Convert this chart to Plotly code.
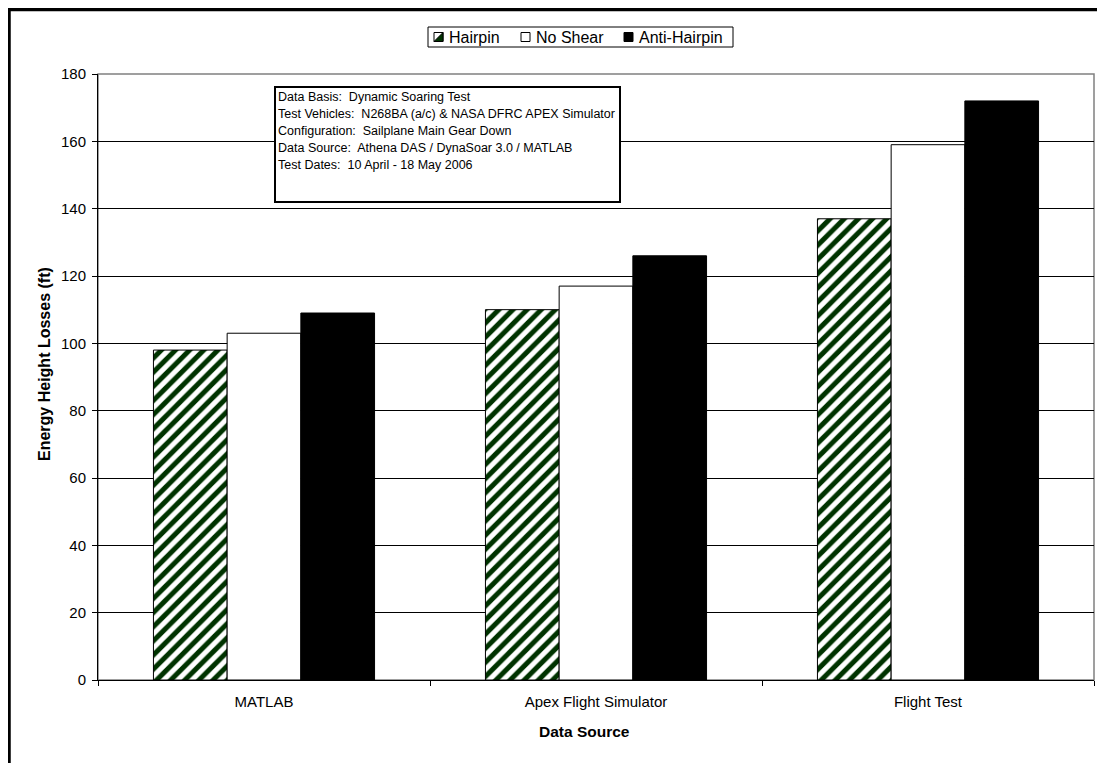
import plotly.graph_objects as go

categories = ["MATLAB", "Apex Flight Simulator", "Flight Test"]
hairpin = [98, 110, 137]
no_shear = [103, 117, 159]
anti_hairpin = [109, 126, 172]
y_ticks = [0, 20, 40, 60, 80, 100, 120, 140, 160, 180]
series_names = ["Hairpin", "No Shear", "Anti-Hairpin"]
info_lines = [
    "Data Basis:  Dynamic Soaring Test",
    "Test Vehicles:  N268BA (a/c) &amp; NASA DFRC APEX Simulator",
    "Configuration:  Sailplane Main Gear Down",
    "Data Source:  Athena DAS / DynaSoar 3.0 / MATLAB",
    "Test Dates:  10 April - 18 May 2006",
]

OFF = 8  # page body margin
W, H = 1105 - OFF, 763 - OFF
L, R, T, B = 98, 1094, 74, 680  # plot area in reference (screen) pixels
pw, ph = R - L, B - T

def px(x):
    return (x - L) / pw

def py(y):
    return (B - y) / ph

FONT = "Liberation Sans, Arial, sans-serif"
GREEN = "#003300"
FS = 15

fig = go.Figure()
fig.add_trace(go.Bar(
    name=series_names[0], x=categories, y=hairpin,
    marker=dict(color="white", line=dict(color="black", width=1),
                pattern=dict(shape="/", fgcolor=GREEN, bgcolor="white",
                             fgopacity=1, size=10, solidity=0.5)),
))
fig.add_trace(go.Bar(
    name=series_names[1], x=categories, y=no_shear,
    marker=dict(color="white", line=dict(color="black", width=1)),
))
fig.add_trace(go.Bar(
    name=series_names[2], x=categories, y=anti_hairpin,
    marker=dict(color="black", line=dict(color="black", width=1)),
))

shapes = [
    dict(type="rect", xref="paper", yref="paper", x0=0, x1=1, y0=0, y1=1,
         line=dict(color="#808080", width=1.5), layer="below"),
    dict(type="line", xref="paper", yref="paper", x0=px(9), x1=px(9),
         y0=py(8), y1=py(780), line=dict(color="black", width=3.5)),
    dict(type="line", xref="paper", yref="paper", x0=px(7.5), x1=px(1120),
         y0=py(9.5), y1=py(9.5), line=dict(color="black", width=3.5)),
    # info box
    dict(type="rect", xref="paper", yref="paper", x0=px(275), x1=px(620),
         y0=py(202), y1=py(87), line=dict(color="black", width=2),
         fillcolor="white", layer="above"),
    # legend box
    dict(type="rect", xref="paper", yref="paper", x0=px(428), x1=px(733),
         y0=py(47), y1=py(27), line=dict(color="black", width=1),
         fillcolor="white", layer="above"),
]

annotations = []
# legend items (icon left edge, text left edge)
LFS = 16
leg_items = [(434, 447), (521, 534), (624, 637)]
icon_top, icon_bot = 32.5, 41.5
for i, (ix, tx) in enumerate(leg_items):
    fill = ["white", "white", "black"][i]
    shapes.append(dict(type="rect", xref="paper", yref="paper",
                       x0=px(ix), x1=px(ix + 9), y0=py(icon_bot), y1=py(icon_top),
                       line=dict(color="black", width=1), fillcolor=fill, layer="above"))
    if i == 0:
        path = "M {} {} L {} {} L {} {} Z".format(
            px(ix + 9), py(icon_top), px(ix + 9), py(icon_bot), px(ix), py(icon_bot))
        shapes.append(dict(type="path", xref="paper", yref="paper", path=path,
                           fillcolor=GREEN, line=dict(color="black", width=1),
                           layer="above"))
    annotations.append(dict(xref="paper", yref="paper", x=px(tx), y=py(37),
                            xanchor="left", yanchor="middle", showarrow=False,
                            text=series_names[i], font=dict(size=LFS, color="black")))

# info text lines
IFS = 12.5
line_y = [97, 114, 131, 148, 165]
for txt, ly in zip(info_lines, line_y):
    annotations.append(dict(xref="paper", yref="paper", x=px(276), y=py(ly),
                            xanchor="left", yanchor="middle", showarrow=False,
                            text=txt, font=dict(size=IFS, color="black")))

# axis titles
annotations.append(dict(xref="paper", yref="paper", x=px(584), y=py(731),
                        xanchor="center", yanchor="middle", showarrow=False,
                        text="<b>Data Source</b>", font=dict(size=15.5, color="black")))
annotations.append(dict(xref="paper", yref="paper", x=px(44), y=py(364),
                        xanchor="center", yanchor="middle", showarrow=False,
                        textangle=-90,
                        text="<b>Energy Height Losses (ft)</b>",
                        font=dict(size=16, color="black")))

fig.update_layout(
    width=W, height=H,
    margin=dict(l=L - OFF, r=W - (R - OFF), t=T - OFF, b=H - (B - OFF), autoexpand=False),
    paper_bgcolor="white", plot_bgcolor="white",
    barmode="group", bargap=0.334, bargroupgap=0,
    font=dict(family=FONT, size=FS, color="black"),
    showlegend=False,
    shapes=shapes,
    annotations=annotations,
    xaxis=dict(
        showline=True, linecolor="black", linewidth=1,
        ticks="outside", tickson="boundaries", ticklen=5, tickcolor="black",
        showgrid=False, tickfont=dict(size=FS), ticklabelstandoff=8,
    ),
    yaxis=dict(
        range=[0, 180], tickvals=y_ticks, showline=True, linecolor="black", linewidth=1,
        ticks="outside", ticklen=5, tickcolor="black",
        showgrid=True, gridcolor="black", gridwidth=1, zeroline=False,
        tickfont=dict(size=FS), ticklabelstandoff=3,
    ),
)

fig.write_html("out.html")
